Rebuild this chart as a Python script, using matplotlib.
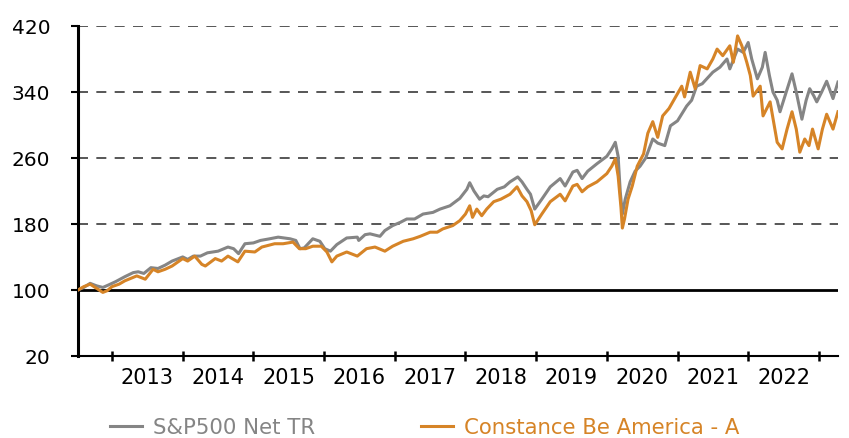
import matplotlib.pyplot as plt
from matplotlib.ticker import FixedLocator, FixedFormatter, NullFormatter

# S&P500 Net TR (time in decimal years, value rebased to 100)
sp_t = [2012.52, 2012.60, 2012.69, 2012.78, 2012.87, 2012.95, 2013.05, 2013.18, 2013.30, 2013.37,
        2013.45, 2013.55, 2013.65, 2013.75, 2013.85, 2014.00, 2014.07, 2014.15, 2014.25, 2014.35,
        2014.50, 2014.64, 2014.72, 2014.79, 2014.88, 2015.00, 2015.10, 2015.23, 2015.35, 2015.52,
        2015.60, 2015.66, 2015.72, 2015.84, 2015.94, 2016.01, 2016.09, 2016.18, 2016.32, 2016.47,
        2016.49, 2016.58, 2016.65, 2016.79, 2016.86, 2016.97, 2017.08, 2017.17, 2017.28, 2017.40,
        2017.54, 2017.64, 2017.78, 2017.92, 2018.02, 2018.06, 2018.12, 2018.20, 2018.26, 2018.32,
        2018.45, 2018.55, 2018.63, 2018.74, 2018.80, 2018.87, 2018.92, 2018.98, 2019.08, 2019.20,
        2019.34, 2019.41, 2019.52, 2019.58, 2019.65, 2019.73, 2019.86, 2020.00, 2020.07, 2020.12,
        2020.16, 2020.19, 2020.22, 2020.26, 2020.33, 2020.40, 2020.47, 2020.55, 2020.65, 2020.72,
        2020.82, 2020.90, 2021.00, 2021.13, 2021.20, 2021.27, 2021.35, 2021.50, 2021.60, 2021.70,
        2021.74, 2021.85, 2021.93, 2022.00, 2022.05, 2022.13, 2022.20, 2022.24, 2022.30, 2022.35,
        2022.41, 2022.45, 2022.52, 2022.62, 2022.68, 2022.76, 2022.82, 2022.87, 2022.93, 2022.97,
        2023.04, 2023.11, 2023.20, 2023.27]
sp_v = [100, 103, 108, 105, 103, 106, 110, 116, 121, 122,
        120, 127, 126, 130, 135, 140, 137, 141, 141, 145,
        147, 152, 150, 144, 156, 157, 160, 162, 164, 162,
        160, 150, 151, 162, 159, 150, 147, 155, 163, 164,
        160, 167, 168, 165, 172, 178, 182, 186, 186, 192,
        194, 198, 202, 211, 222, 230, 220, 210, 214, 213,
        222, 225, 231, 237, 231, 222, 216, 198, 210, 225,
        235, 226, 243, 245, 235, 244, 253, 262, 271, 279,
        262, 219, 192, 210, 231, 244, 250, 260, 283, 278,
        275, 299, 305, 323, 330, 347, 350, 364, 370, 380,
        368, 392, 388, 400, 380, 356, 370, 388, 360, 340,
        330, 316, 335, 362, 340, 307, 330, 344, 335, 328,
        340, 353, 332, 352]

# Constance Be America - A
fund_t = [2012.52, 2012.60, 2012.69, 2012.78, 2012.87, 2012.93, 2013.00, 2013.10, 2013.18, 2013.35,
          2013.47, 2013.58, 2013.65, 2013.75, 2013.85, 2014.00, 2014.07, 2014.17, 2014.27, 2014.32,
          2014.46, 2014.55, 2014.64, 2014.78, 2014.88, 2015.02, 2015.12, 2015.30, 2015.42, 2015.56,
          2015.65, 2015.74, 2015.84, 2015.96, 2016.04, 2016.11, 2016.18, 2016.32, 2016.47, 2016.60,
          2016.72, 2016.86, 2016.97, 2017.12, 2017.26, 2017.36, 2017.50, 2017.60, 2017.68, 2017.82,
          2017.92, 2018.00, 2018.06, 2018.10, 2018.16, 2018.23, 2018.30, 2018.40, 2018.50, 2018.63,
          2018.73, 2018.80, 2018.87, 2018.93, 2018.98, 2019.08, 2019.20, 2019.34, 2019.41, 2019.52,
          2019.58, 2019.65, 2019.73, 2019.86, 2020.00, 2020.07, 2020.12, 2020.16, 2020.20, 2020.22,
          2020.25, 2020.30, 2020.36, 2020.43, 2020.52, 2020.58, 2020.65, 2020.72, 2020.79, 2020.88,
          2020.96, 2021.06, 2021.10, 2021.18, 2021.25, 2021.32, 2021.42, 2021.50, 2021.56, 2021.64,
          2021.74, 2021.79, 2021.85, 2021.91, 2021.98, 2022.03, 2022.07, 2022.17, 2022.21, 2022.31,
          2022.41, 2022.48, 2022.55, 2022.62, 2022.68, 2022.73, 2022.80, 2022.86, 2022.91, 2022.99,
          2023.05, 2023.11, 2023.20, 2023.27]
fund_v = [100, 104, 107, 102, 97, 99, 104, 107, 111, 117,
          113, 125, 122, 125, 129, 138, 135, 141, 131, 129,
          138, 135, 141, 134, 147, 146, 152, 156, 156, 158,
          150, 150, 153, 153, 146, 134, 141, 146, 141, 150,
          152, 147, 153, 159, 162, 165, 170, 170, 174, 178,
          184, 192, 202, 188, 198, 190, 198, 207, 210, 216,
          225, 214, 207, 196, 179, 192, 207, 216, 208, 226,
          228, 219, 225, 231, 241, 250, 259, 238, 200, 175,
          186, 210, 226, 250, 265, 290, 304, 285, 311, 320,
          332, 347, 334, 364, 344, 372, 368, 380, 392, 384,
          396, 376, 408, 396, 376, 360, 335, 347, 311, 328,
          279, 271, 295, 316, 295, 267, 283, 275, 295, 271,
          295, 313, 295, 316]

years = list(range(2013, 2023))
y_ticks = [20, 100, 180, 260, 340, 420]

GREY = '#858585'
ORANGE = '#D68427'

plt.rcParams['font.family'] = 'DejaVu Sans'

fig = plt.figure(figsize=(8.49, 4.39), dpi=100)
ax = fig.add_axes([0.092, 0.187, 0.895, 0.7515])

for y in y_ticks[2:]:
    ax.axhline(y, color='#3a3a3a', lw=1.2, ls=(0, (6, 5)), zorder=1)
ax.axhline(100, color='black', lw=2, zorder=1.5)

ax.plot(sp_t, sp_v, color=GREY, lw=2.2, label='S&P500 Net TR', zorder=3)
ax.plot(fund_t, fund_v, color=ORANGE, lw=2.2, label='Constance Be America - A', zorder=3)

ax.set_xlim(2012.52, 2023.27)
ax.set_ylim(20, 420)

ax.set_yticks(y_ticks)
ax.tick_params(axis='y', direction='out', length=5, width=1.5, pad=15, labelsize=14.5)

ax.xaxis.set_major_locator(FixedLocator(years + [2023]))
ax.xaxis.set_major_formatter(NullFormatter())
ax.xaxis.set_minor_locator(FixedLocator([y + 0.5 for y in years]))
ax.xaxis.set_minor_formatter(FixedFormatter([str(y) for y in years]))
ax.tick_params(axis='x', which='major', direction='inout', length=7, width=1.8)
ax.tick_params(axis='x', which='minor', length=0, pad=8, labelsize=15)

for s in ['top', 'right']:
    ax.spines[s].set_visible(False)
ax.spines['left'].set_linewidth(2.2)
ax.spines['bottom'].set_linewidth(1.5)

fig.legend(loc='center', bbox_to_anchor=(0.5, 0.025), ncol=2, frameon=False,
           fontsize=15.3, handlelength=1.5, handletextpad=0.5, columnspacing=5.0,
           labelcolor='linecolor')

fig.savefig('out.png', dpi=100)
